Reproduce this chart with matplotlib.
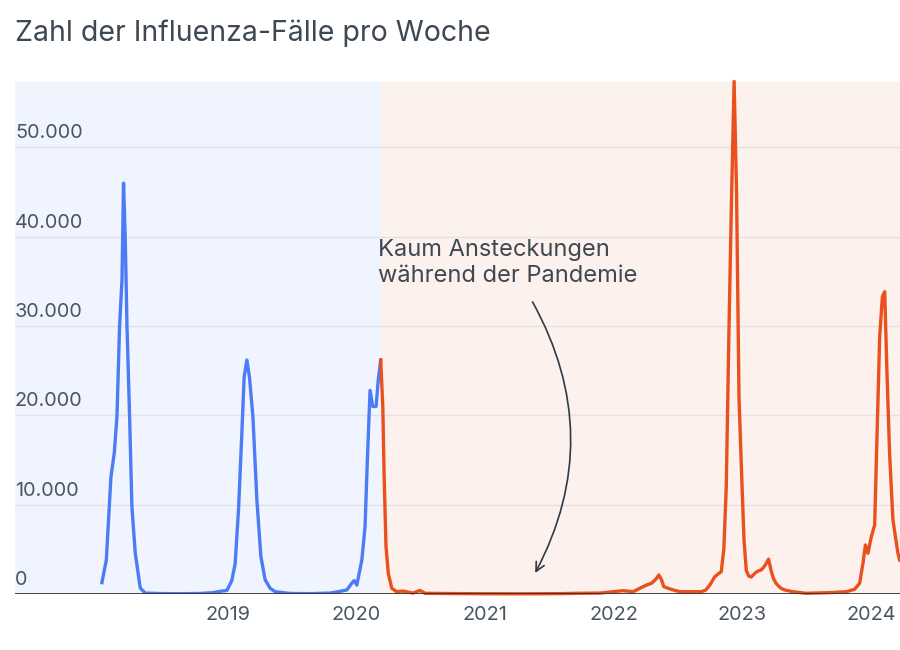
import matplotlib
matplotlib.use("Agg")
import matplotlib.pyplot as plt
import matplotlib.transforms as mtransforms

plt.rcParams['font.family'] = ['Inter', 'DejaVu Sans']

# weekly influenza cases (x = decimal year)
vor_jahre = [2018.021, 2018.055, 2018.091, 2018.117, 2018.138, 2018.158, 2018.177,
             2018.189, 2018.202, 2018.216, 2018.236, 2018.254, 2018.280, 2018.319,
             2018.358, 2018.474, 2018.630, 2018.785, 2018.886, 2018.941, 2018.993,
             2019.031, 2019.057, 2019.083, 2019.109, 2019.127, 2019.148, 2019.168,
             2019.195, 2019.226, 2019.257, 2019.290, 2019.329, 2019.368, 2019.484,
             2019.640, 2019.795, 2019.873, 2019.925, 2019.964, 2019.982, 2020.003,
             2020.042, 2020.067, 2020.085, 2020.106, 2020.127, 2020.153, 2020.170,
             2020.189]
vor_faelle = [1270, 3800, 13100, 15800, 19900, 29900, 35200,
              46000, 40000, 29900, 19900, 9800, 4600, 670,
              100, 50, 30, 60, 150, 300, 400,
              1500, 3400, 9400, 18000, 24300, 26200, 24300,
              19900, 10500, 4200, 1600, 640, 260, 60,
              40, 100, 300, 450, 1200, 1500, 1000,
              3800, 7500, 15000, 22800, 21000, 21000, 24000,
              26200]

nach_jahre = [2020.189, 2020.205, 2020.215, 2020.230, 2020.248, 2020.275, 2020.313,
              2020.362, 2020.440, 2020.494, 2020.533, 2020.728, 2020.961, 2021.271,
              2021.582, 2021.738, 2021.893, 2021.996, 2022.074, 2022.152, 2022.204,
              2022.256, 2022.295, 2022.328, 2022.352, 2022.373, 2022.390, 2022.424,
              2022.463, 2022.515, 2022.618, 2022.683, 2022.717, 2022.748, 2022.787,
              2022.818, 2022.837, 2022.857, 2022.876, 2022.895, 2022.915, 2022.937,
              2022.956, 2022.975, 2022.994, 2023.014, 2023.032, 2023.052, 2023.071,
              2023.090, 2023.109, 2023.129, 2023.148, 2023.167, 2023.186, 2023.205,
              2023.225, 2023.244, 2023.263, 2023.282, 2023.302, 2023.331, 2023.393,
              2023.494, 2023.680, 2023.810, 2023.874, 2023.913, 2023.939, 2023.958,
              2023.978, 2024.004, 2024.030, 2024.048, 2024.069, 2024.090, 2024.108,
              2024.125, 2024.146, 2024.172, 2024.211, 2024.224]
nach_faelle = [26200, 21000, 13500, 5300, 2300, 640, 260,
               330, 100, 400, 80, 50, 30, 20,
               40, 80, 100, 260, 370, 260, 640,
               1000, 1200, 1650, 2130, 1570, 820, 640,
               450, 260, 260, 260, 450, 1000, 1940,
               2300, 2500, 5000, 12000, 28000, 43000, 57400,
               45000, 22000, 14000, 6000, 2600, 2000, 1900,
               2200, 2450, 2600, 2700, 3000, 3400, 3900,
               2600, 1700, 1200, 900, 640, 450, 260,
               80, 150, 260, 530, 1200, 3440, 5490,
               4560, 6420, 7730, 17600, 28800, 33300, 33850,
               25100, 15750, 8300, 4560, 3800]

jahr_ticks = [2019, 2020, 2021, 2022, 2023, 2024]
y_ticks = [0, 10000, 20000, 30000, 40000, 50000]
y_labels = ['0', '10.000', '20.000', '30.000', '40.000', '50.000']

pandemie_start = 2020.189
x_min, x_max = 2017.345, 2024.227
y_max = 57300

text_col = '#3d4852'
blau = '#4b7bf5'
orange = '#e9501e'

fig = plt.figure(figsize=(9, 6.5), dpi=100)
ax = fig.add_axes([15 / 900, 56 / 650, 885 / 900, 511.7 / 650])

ax.axvspan(x_min, pandemie_start, color='#f0f4fe', zorder=0, lw=0)
ax.axvspan(pandemie_start, x_max, color='#fcf1ec', zorder=0, lw=0)

for v in y_ticks[1:]:
    ax.axhline(v, color='#e2e2e2', lw=1, zorder=1)
ax.axhline(0, color='#333333', lw=1.3, zorder=4)

ax.plot(vor_jahre, vor_faelle, color=blau, lw=2.4, zorder=3, solid_joinstyle='round')
ax.plot(nach_jahre, nach_faelle, color=orange, lw=2.4, zorder=3, solid_joinstyle='round',
        clip_on=False)

ax.set_xlim(x_min, x_max)
ax.set_ylim(0, y_max)

for s in ax.spines.values():
    s.set_visible(False)
ax.set_yticks([])
ax.set_xticks(jahr_ticks)
ax.set_xticklabels([str(j) for j in jahr_ticks], fontsize=14.3, color='#4a5560')
ax.tick_params(axis='x', length=0, pad=9)

# y labels sit above their gridline, left aligned
trans = mtransforms.blended_transform_factory(ax.transAxes, ax.transData)
trans = trans + mtransforms.ScaledTranslation(0, 5 / 72 * 0.72, fig.dpi_scale_trans)
for v, lab in zip(y_ticks, y_labels):
    ax.text(0.0, v, lab, transform=trans, ha='left', va='bottom',
            fontsize=14.3, color='#4a5560', zorder=5)

fig.text(15 / 900, 1 - 33 / 650, 'Zahl der Influenza-Fälle pro Woche',
         ha='left', va='center', fontsize=20.5, color=text_col)

ax.text(2020.166, 39700, 'Kaum Ansteckungen\nwährend der Pandemie',
        ha='left', va='top', fontsize=17, color=text_col, linespacing=1.18, zorder=5)

ax.annotate('', xy=(2021.39, 2350), xytext=(2021.37, 32700),
            arrowprops=dict(arrowstyle='->', color='#2f3a45', lw=1.2,
                            connectionstyle='arc3,rad=-0.27',
                            mutation_scale=16, shrinkA=0, shrinkB=0),
            zorder=5)

fig.savefig('out.png', dpi=100)
